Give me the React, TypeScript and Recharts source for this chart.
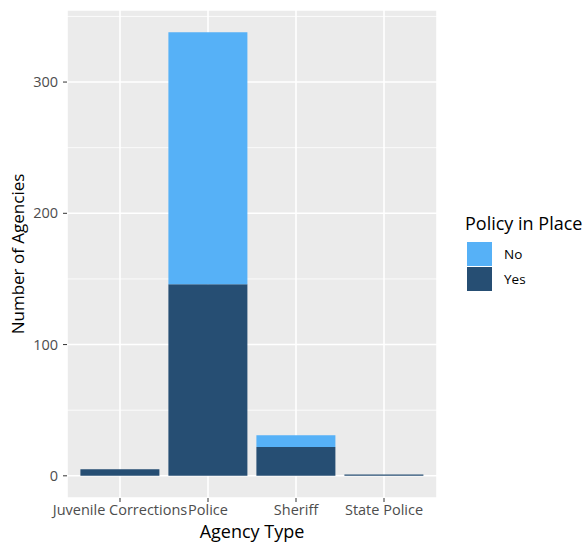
import { BarChart, Bar, XAxis, YAxis, CartesianGrid } from 'recharts';

// values
const agencyTypes = ['Juvenile Corrections', 'Police', 'Sheriff', 'State Police'];
const policyYes = [5, 146, 22, 1];
const policyNo = [0, 192, 9, 0];
const yTicks = [0, 100, 200, 300];
const yMinor = [50, 150, 250, 350];
const legendItems = [
    { key: 'No', color: '#56B1F7' },
    { key: 'Yes', color: '#264E73' },
];

const FONT = '"Open Sans", "Noto Sans", sans-serif';

export default function App() {
    const data = agencyTypes.map((type, i) => ({ type, Yes: policyYes[i], No: policyNo[i] }));
    const colorOf = (k: string) => legendItems.find((l) => l.key === k)!.color;

    return (
        <div style={{ position: 'absolute', left: 0, top: 0, width: 588, height: 542, background: '#fff', fontFamily: FONT }}>
            <BarChart
                width={588}
                height={542}
                data={data}
                margin={{ top: 10, right: 151, left: 0, bottom: 0 }}
                barCategoryGap="5%"
            >
                {/* panel + minor grid, then major grid on top */}
                <CartesianGrid fill="#EBEBEB" stroke="#ffffff" strokeWidth={0.8} vertical={false} horizontalValues={yMinor} />
                <CartesianGrid stroke="#ffffff" strokeWidth={1.6} />
                <XAxis
                    dataKey="type"
                    padding={{ left: 9, right: 9 }}
                    axisLine={false}
                    tickLine={{ stroke: '#333333' }}
                    tickSize={4}
                    tickMargin={3}
                    height={44}
                    interval={0}
                    tick={{ fill: '#4D4D4D', fontSize: 14.5, fontFamily: FONT }}
                    label={{ value: 'Agency Type', position: 'insideBottom', offset: 4, fill: '#000', fontSize: 18, fontFamily: FONT }}
                />
                <YAxis
                    type="number"
                    domain={[-16.9, 354.9]}
                    allowDataOverflow
                    ticks={yTicks}
                    width={67}
                    axisLine={false}
                    tickLine={{ stroke: '#333333' }}
                    tickSize={4}
                    tickMargin={5}
                    tick={{ fill: '#4D4D4D', fontSize: 14.5, fontFamily: FONT }}
                    label={{
                        value: 'Number of Agencies',
                        angle: -90,
                        position: 'insideLeft',
                        dx: 13,
                        fill: '#000',
                        fontSize: 17,
                        fontFamily: FONT,
                        style: { textAnchor: 'middle' },
                    }}
                />
                <Bar dataKey="Yes" stackId="a" fill={colorOf('Yes')} isAnimationActive={false} />
                <Bar dataKey="No" stackId="a" fill={colorOf('No')} isAnimationActive={false} />
            </BarChart>
            <div style={{ position: 'absolute', left: 465, top: 211, fontFamily: FONT }}>
                <div style={{ fontSize: 18, color: '#000', whiteSpace: 'nowrap', lineHeight: '24px' }}>Policy in Place</div>
                <div style={{ marginTop: 6 }}>
                    {legendItems.map((l) => (
                        <div key={l.key} style={{ display: 'flex', alignItems: 'center', height: 25 }}>
                            <div style={{ width: 25, height: 24, background: l.color, marginLeft: 2 }} />
                            <span style={{ marginLeft: 12, fontSize: 13.5, color: '#000' }}>{l.key}</span>
                        </div>
                    ))}
                </div>
            </div>
        </div>
    );
}
